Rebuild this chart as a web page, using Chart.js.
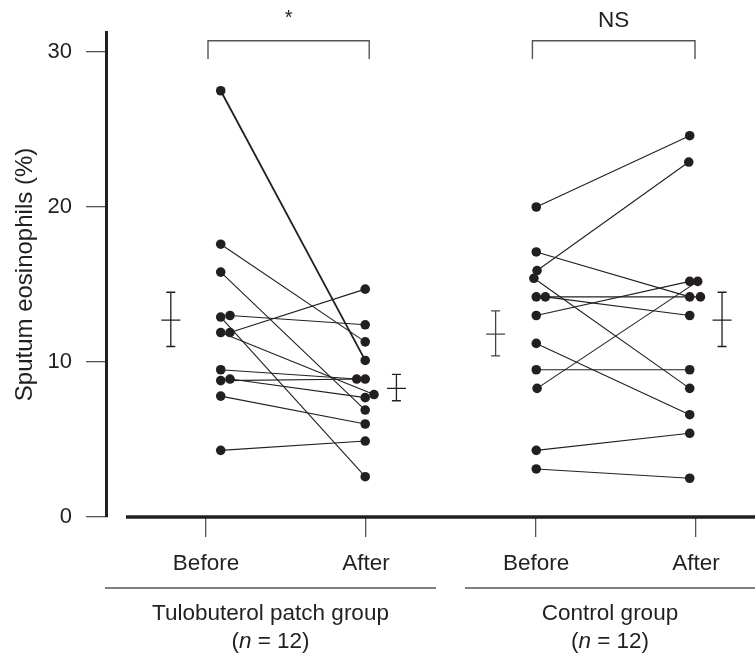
<!DOCTYPE html>
<html>
<head>
<meta charset="utf-8">
<script src="https://cdn.jsdelivr.net/npm/chart.js@4"></script>
<style>
  body { margin: 0; background: #fff; }
  #wrap { width: 755px; height: 654px; }
</style>
</head>
<body>
<div id="wrap"><canvas id="grafico" width="755" height="654"></canvas></div>
<script>
// Dados
const groupNames = ["Tulobuterol patch group", "Control group"];
const groupN = [12, 12];
const timeLabels = ["Before", "After", "Before", "After"];
const timeTicks = [0, 1, 2.0625, 3.0625];
const yTicks = [0, 10, 20, 30];

// sputum eosinophils (%) por paciente
const tuloBefore = [27.5, 17.6, 15.8, 13.0, 12.9, 11.9, 11.9, 9.5, 8.8, 8.9, 7.8, 4.3];
const tuloAfter  = [10.1, 11.3, 6.9, 12.4, 2.6, 14.7, 7.9, 8.9, 8.9, 7.7, 6.0, 4.9];
const ctrlBefore = [20.0, 17.1, 15.9, 15.4, 14.2, 14.2, 13.0, 11.2, 9.5, 8.3, 4.3, 3.1];
const ctrlAfter  = [24.6, 14.2, 22.9, 8.3, 14.2, 13.0, 15.2, 6.6, 9.5, 15.2, 5.4, 2.5];

// média ± EP (Before/After de cada grupo)
const barMeans = [12.7, 8.3, 11.8, 12.7];
const barUpper = [14.5, 9.2, 13.3, 14.5];
const barLower = [11.0, 7.5, 10.4, 11.0];
const signif = ["*", "NS"];

// posição das colunas e deslocamento dos pontos repetidos (unidades do eixo x)
const colX = [0.092, 0.995, 2.064, 3.023];
const barX = [-0.22, 1.19, 1.81, 3.225];
const tuloBeforeJit = [0, 0, 0, 0.058, 0, 0.058, 0, 0, 0, 0.058, 0, 0];
const tuloAfterJit  = [0, 0, 0, 0, 0, 0, 0.055, -0.053, 0, 0, 0, 0];
const ctrlBeforeJit = [0, 0, 0.005, -0.015, 0, 0.057, 0, 0, 0, 0.005, 0, 0];
const ctrlAfterJit  = [0, 0, -0.006, 0, 0.067, 0, 0, 0, 0, 0.05, 0, 0];

const INK = "#231f20";
const GRAY = "#555";
const FONT = "'Liberation Sans', Arial, Helvetica, sans-serif";
const FS = 22.5;

function pairDatasets(before, after, jb, ja, cb, ca) {
    return before.map((v, i) => ({
        data: [{ x: colX[cb] + jb[i], y: v }, { x: colX[ca] + ja[i], y: after[i] }],
        showLine: true,
        borderColor: INK,
        borderWidth: (cb === 0 && i === 0) ? 1.8 : 1.1,
        pointRadius: 4.8,
        pointBackgroundColor: INK,
        pointBorderWidth: 0,
        clip: false
    }));
}

const datasets = [
    ...pairDatasets(tuloBefore, tuloAfter, tuloBeforeJit, tuloAfterJit, 0, 1),
    ...pairDatasets(ctrlBefore, ctrlAfter, ctrlBeforeJit, ctrlAfterJit, 2, 3)
];

// desenha eixo x, barras de erro, colchetes e rótulos dos grupos
const extras = {
    id: "extras",
    afterDraw(chart) {
        const { ctx, chartArea, scales } = chart;
        const xs = scales.x, ys = scales.y;
        ctx.save();

        // eixo x (separado do eixo y)
        ctx.strokeStyle = INK;
        ctx.lineWidth = 3.5;
        ctx.beginPath();
        ctx.moveTo(chartArea.left + 20, chartArea.bottom);
        ctx.lineTo(chartArea.right, chartArea.bottom);
        ctx.stroke();

        // barras de erro
        barMeans.forEach((m, i) => {
            const x = xs.getPixelForValue(barX[i]);
            const yu = ys.getPixelForValue(barUpper[i]);
            const yl = ys.getPixelForValue(barLower[i]);
            const ym = ys.getPixelForValue(m);
            ctx.strokeStyle = i === 2 ? "#444" : INK;
            ctx.lineWidth = 1.3;
            ctx.beginPath();
            ctx.moveTo(x, yu); ctx.lineTo(x, yl);
            ctx.moveTo(x - 4.5, yu); ctx.lineTo(x + 4.5, yu);
            ctx.moveTo(x - 4.5, yl); ctx.lineTo(x + 4.5, yl);
            ctx.moveTo(x - 9.5, ym); ctx.lineTo(x + 9.5, ym);
            ctx.stroke();
        });

        // colchetes de significância
        const brackets = [[0.0125, 1.02], [2.04, 3.056]];
        const yTop = ys.getPixelForValue(30.73);
        const yBot = ys.getPixelForValue(29.55);
        brackets.forEach((b, i) => {
            const x0 = xs.getPixelForValue(b[0]);
            const x1 = xs.getPixelForValue(b[1]);
            ctx.strokeStyle = GRAY;
            ctx.lineWidth = 1.4;
            ctx.beginPath();
            ctx.moveTo(x0, yBot); ctx.lineTo(x0, yTop); ctx.lineTo(x1, yTop); ctx.lineTo(x1, yBot);
            ctx.stroke();
            ctx.fillStyle = INK;
            ctx.textAlign = "center";
            ctx.textBaseline = "middle";
            ctx.font = (i === 0 ? "20px " : FS + "px ") + FONT;
            ctx.fillText(signif[i], (x0 + x1) / 2, i === 0 ? 18 : 21);
        });

        // linhas e nomes dos grupos
        const spans = [[105, 436], [465, 755]];
        spans.forEach((s, i) => {
            ctx.strokeStyle = GRAY;
            ctx.lineWidth = 1.3;
            ctx.beginPath();
            ctx.moveTo(s[0], 588); ctx.lineTo(s[1], 588);
            ctx.stroke();
            const cx = (s[0] + s[1]) / 2;
            const norm = FS + "px " + FONT;
            const ital = "italic " + FS + "px " + FONT;
            ctx.fillStyle = INK;
            ctx.textBaseline = "middle";
            ctx.textAlign = "center";
            ctx.font = norm;
            ctx.fillText(groupNames[i], cx, 614);

            // "(n = 12)" com n em itálico
            const p1 = "(", p3 = " = " + groupN[i] + ")";
            ctx.font = norm;
            const w1 = ctx.measureText(p1).width;
            const w3 = ctx.measureText(p3).width;
            ctx.font = ital;
            const w2 = ctx.measureText("n").width;
            let x = cx - (w1 + w2 + w3) / 2;
            ctx.textAlign = "left";
            ctx.font = norm;
            ctx.fillText(p1, x, 642);
            x += w1;
            ctx.font = ital;
            ctx.fillText("n", x, 642);
            x += w2;
            ctx.font = norm;
            ctx.fillText(p3, x, 642);
        });

        ctx.restore();
    }
};

new Chart(document.getElementById("grafico"), {
    type: "scatter",
    data: { datasets },
    options: {
        responsive: false,
        animation: false,
        devicePixelRatio: 1,
        layout: { autoPadding: false, padding: { top: 32, right: 0, bottom: 0, left: 0 } },
        plugins: { legend: { display: false }, tooltip: { enabled: false } },
        scales: {
            x: {
                type: "linear",
                min: -0.625,
                max: 3.431,
                afterBuildTicks: (s) => { s.ticks = timeTicks.map(v => ({ value: v })); },
                afterFit: (s) => { s.height = 137; },
                ticks: {
                    callback: (v, i) => timeLabels[i],
                    color: INK,
                    font: { family: FONT, size: FS },
                    padding: 13,
                    maxRotation: 0,
                    autoSkip: false
                },
                grid: { drawOnChartArea: false, tickLength: 20, color: GRAY, lineWidth: 1.3 },
                border: { display: false }
            },
            y: {
                min: 0,
                max: 31.29,
                afterBuildTicks: (s) => { s.ticks = yTicks.map(v => ({ value: v })); },
                afterFit: (s) => { s.width = 106; },
                ticks: {
                    color: INK,
                    font: { family: FONT, size: 22 },
                    padding: 14
                },
                grid: { drawOnChartArea: false, tickLength: 20, color: GRAY, lineWidth: 1.3 },
                border: { display: true, color: INK, width: 3 },
                title: {
                    display: true,
                    text: "Sputum eosinophils (%)",
                    color: INK,
                    font: { family: FONT, size: 24 },
                    padding: { top: 11, bottom: 0 }
                }
            }
        }
    },
    plugins: [extras]
});
</script>
</body>
</html>
